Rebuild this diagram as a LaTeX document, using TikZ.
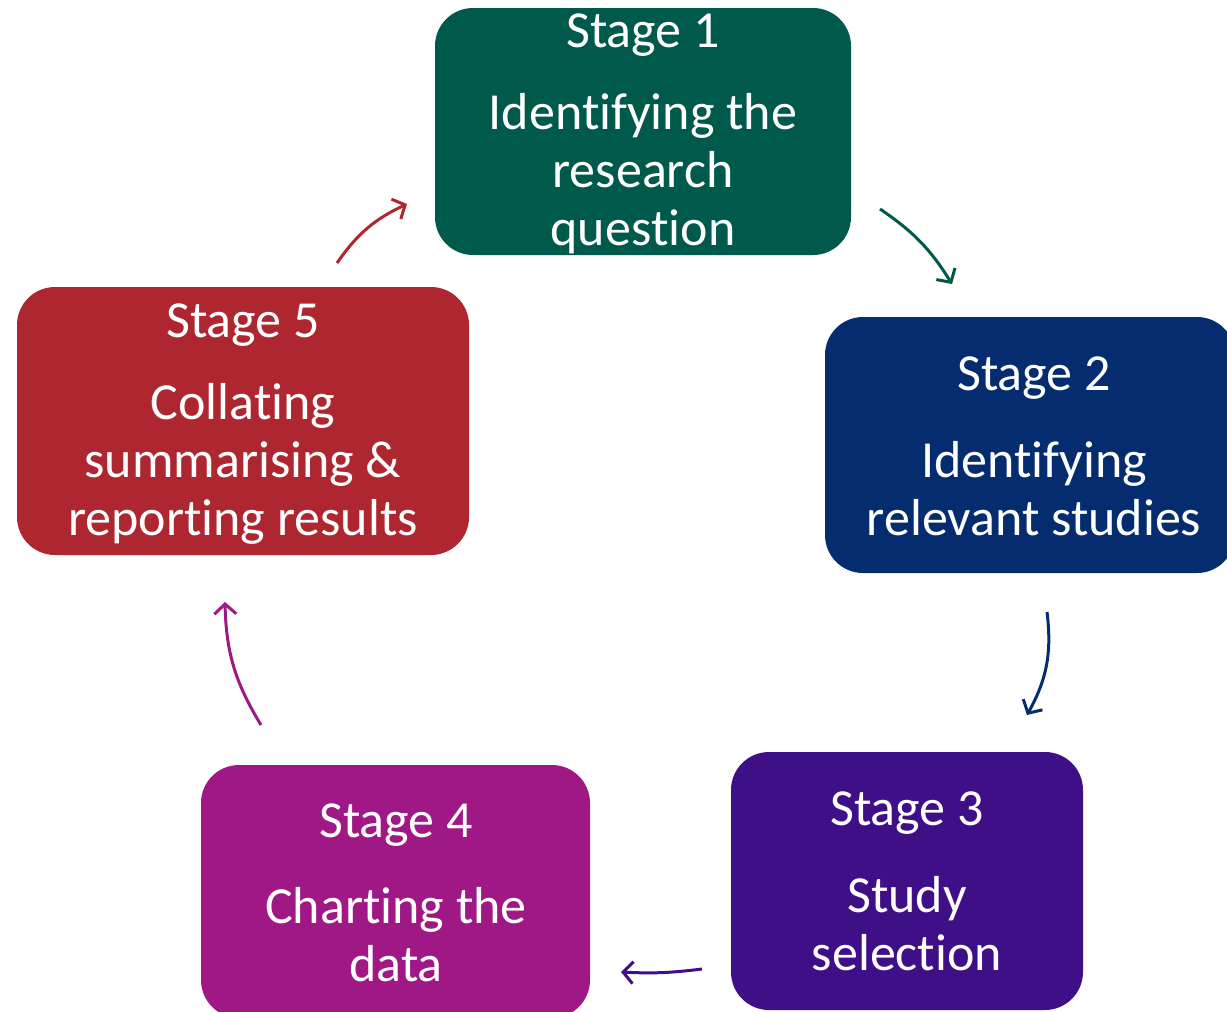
\documentclass[tikz,border=0pt]{standalone}
\usepackage{fontspec}
\setmainfont{Carlito}[RawFeature={-liga;-clig;-calt;-rlig;-dlig}]
\usetikzlibrary{arrows.meta}
\definecolor{cgreen}{HTML}{005A4B}
\definecolor{cblue}{HTML}{062C70}
\definecolor{cpurple}{HTML}{3F0F88}
\definecolor{cmagenta}{HTML}{A01886}
\definecolor{cred}{HTML}{AE2630}
\tikzset{
  box/.style={rectangle, rounded corners=19pt, draw=none, inner sep=0pt},
  txt/.style={text=white, align=center, inner sep=0pt, font=\fontsize{26}{29}\selectfont},
  conn/.style={line width=1.5pt, -{Straight Barb[length=5pt,width=11pt,line width=1.5pt]}, bend left=#1},
  conn/.default=15
}
\begin{document}
\begin{tikzpicture}[x=0.5pt,y=-0.5pt]
\useasboundingbox (0,0) rectangle (1227,1012);
\clip (0,0) rectangle (1227,1012);
% boxes
\node[box, fill=cgreen, minimum width=208pt, minimum height=123.5pt] (s1) at (643,131.5) {};
\node[box, fill=cblue, minimum width=205pt, minimum height=128pt] (s2) at (1030,445) {};
\node[box, fill=cpurple, minimum width=176pt, minimum height=129pt] (s3) at (907,881) {};
\node[box, fill=cmagenta, minimum width=194.5pt, minimum height=126.5pt] (s4) at (395.5,891.5) {};
\node[box, fill=cred, minimum width=226pt, minimum height=134pt] (s5) at (243,421) {};
% texts
\node[txt] (t1) at (643,35) {Stage 1};
\node[txt] (b1) at (643,174) {Identifying the\\research\\ques\kern0pt tion};
\node[txt] (t2) at (1034,378) {Stage 2};
\node[txt] (b2) at (1034,488.5) {Identifying\\relevant studies};
\node[txt] (t3) at (907,813) {Stage 3};
\node[txt] (b3) at (907,924) {Study\\selection};
\node[txt] (t4) at (396,825) {Stage 4};
\node[txt] (b4) at (396,935) {Char\kern0pt ting the\\data};
\node[txt] (t5) at (243,325) {Stage 5};
\node[txt] (b5) at (243,464) {Colla\kern0pt ting\\summarising \&\\repor\kern0pt ting results};
% connector endpoints
\coordinate (a1s) at (880,209); \coordinate (a1e) at (952,284);
\coordinate (a2s) at (1047,612); \coordinate (a2e) at (1027,715);
\coordinate (a3s) at (702,969); \coordinate (a3e) at (621,972);
\coordinate (a4s) at (261,725); \coordinate (a4e) at (225,602);
\coordinate (a5s) at (337,263); \coordinate (a5e) at (407,204);
\draw[conn=12, draw=cgreen] (a1s) to (a1e);
\draw[conn=18, draw=cblue] (a2s) to (a2e);
\draw[conn=5, draw=cpurple] (a3s) to (a3e);
\draw[conn=15, draw=cmagenta] (a4s) to (a4e);
\draw[conn=15, draw=cred] (a5s) to (a5e);
\end{tikzpicture}
\end{document}
